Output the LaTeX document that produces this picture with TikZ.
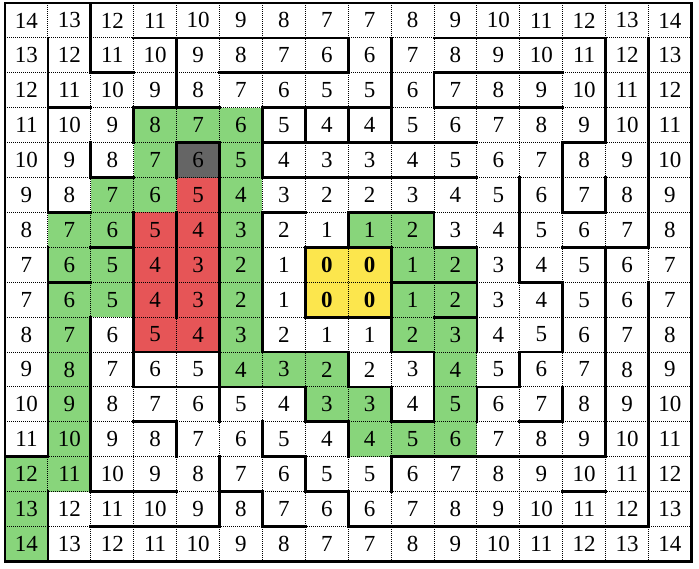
\documentclass[tikz,border=0pt]{standalone}
\usepackage{fontspec}
\setmainfont{Liberation Serif}
\definecolor{cgreen}{HTML}{88D57B}
\definecolor{cred}{HTML}{E65557}
\definecolor{cyellow}{HTML}{FCE64D}
\definecolor{cgray}{HTML}{656565}
\begin{document}
\begin{tikzpicture}[x=42.9pt,y=-34.9pt,
  wall/.style={line width=2.8pt, line cap=rect},
  gridline/.style={line width=0.9pt, dash pattern=on 1pt off 1pt},
  num/.style={font=\fontsize{23}{23}\selectfont, inner sep=0pt},
  ]
\useasboundingbox (-0.1166,-0.086) rectangle (16.177,16.189);
% fills
\foreach \c/\r in {3/3,4/3,5/3, 3/4,5/4, 2/5,3/5,5/5, 1/6,2/6,5/6,8/6,9/6,
  1/7,2/7,5/7,9/7,10/7, 1/8,2/8,5/8,9/8,10/8, 1/9,5/9,9/9,10/9,
  1/10,5/10,6/10,7/10,10/10, 1/11,7/11,8/11,10/11, 1/12,8/12,9/12,10/12,
  0/13,1/13, 0/14, 0/15}
  \fill[cgreen] (\c,\r) rectangle ++(1,1);
\foreach \c/\r in {4/5, 3/6,4/6, 3/7,4/7, 3/8,4/8, 3/9,4/9}
  \fill[cred] (\c,\r) rectangle ++(1,1);
\foreach \c/\r in {7/7,8/7,7/8,8/8}
  \fill[cyellow] (\c,\r) rectangle ++(1,1);
\fill[cgray] (4,4) rectangle ++(1,1);
% dotted grid
\foreach \i in {1,...,15} {
  \draw[gridline] (\i,0) -- (\i,16);
  \draw[gridline] (0,\i) -- (16,\i);
}
% horizontal walls y/c1/c2
\foreach \y/\a/\b in {1/3/8, 1/10/14,
  2/2/3, 2/5/8, 2/10/13,
  3/1/2, 3/3/5, 3/6/9, 3/10/13,
  4/4/5, 4/6/11, 4/13/14,
  5/2/3, 5/6/11,
  6/1/2, 6/6/7, 6/8/10, 6/13/14,
  7/2/3, 7/7/9, 7/10/11, 7/13/15,
  8/1/2, 8/9/11, 8/12/13,
  9/7/9, 9/10/11,
  10/3/5, 10/6/8, 10/9/10, 10/12/13,
  11/3/7, 11/8/9, 11/11/12,
  12/3/4, 12/7/8, 12/9/10, 12/12/13,
  13/0/1, 13/6/7, 13/9/14,
  14/2/4, 14/5/6, 14/7/8, 14/13/14,
  15/2/5, 15/6/7, 15/8/15}
  \draw[wall] (\a,\y) -- (\b,\y);
% vertical walls x/r1/r2
\foreach \x/\a/\b in {1/1/6, 1/7/13, 1/14/16,
  2/0/2, 2/4/5, 2/9/14,
  3/3/4, 3/6/11,
  4/1/3, 4/4/5, 4/6/9, 4/12/13,
  5/4/12, 5/13/15,
  6/3/5, 6/6/10, 6/12/13, 6/14/15,
  7/3/4, 7/7/9, 7/11/12, 7/13/14,
  8/1/2, 8/3/4, 8/6/7, 8/10/11, 8/12/13, 8/14/15,
  9/1/4, 9/7/10, 9/11/12, 9/13/14,
  10/2/3, 10/6/7, 10/10/12,
  11/7/10, 11/11/12,
  12/5/8, 12/10/11,
  13/4/6, 13/8/10, 13/11/12,
  14/1/4, 14/5/6, 14/7/13,
  15/1/7, 15/8/15}
  \draw[wall] (\x,\a) -- (\x,\b);
\draw[wall] (0,0) rectangle (16,16);
% numbers
\foreach \r in {0,...,15} {
  \foreach \c in {0,...,15} {
    \pgfmathtruncatemacro\v{min(abs(\r-7),abs(\r-8))+min(abs(\c-7),abs(\c-8))}
    \ifnum\v=0
      \node[num,font=\fontsize{23}{23}\selectfont\bfseries] (n\r-\c) at (\c+0.5,\r+0.5) {\v};
    \else
      \node[num] (n\r-\c) at (\c+0.5,\r+0.5) {\v};
    \fi
  }
}
\end{tikzpicture}
\end{document}
